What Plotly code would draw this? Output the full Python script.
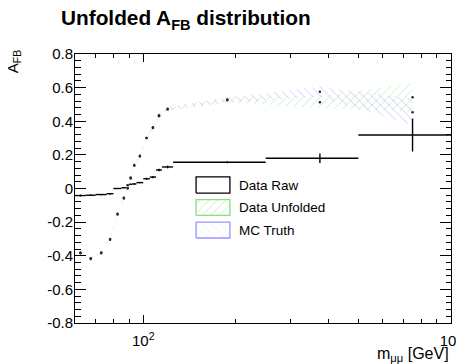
import plotly.graph_objects as go

# ---------------- data ----------------
bin_edges = [60, 65, 70, 76, 80, 85, 88, 90, 92, 95, 100, 105, 110, 115, 125, 250, 500, 1000]
raw_vals = [-0.042, -0.040, -0.036, -0.031, 0.000, 0.005, 0.020, 0.025, 0.027, 0.035,
            0.058, 0.068, 0.110, 0.128, 0.156, 0.180, 0.318]
raw_errs = [0.006, 0.005, 0.004, 0.004, 0.003, 0.003, 0.003, 0.003, 0.003, 0.004,
            0.006, 0.007, 0.008, 0.008, 0.006, 0.028, 0.098]
unf_vals = [-0.38, -0.42, -0.38, -0.30, -0.15, -0.06, 0.00, 0.065, 0.135, 0.19,
            0.30, 0.365, 0.435, 0.47, 0.53, 0.513, 0.543]
unf_errs = [0.008, 0.006, 0.006, 0.006, 0.006, 0.005, 0.005, 0.005, 0.006, 0.007,
            0.008, 0.009, 0.010, 0.010, 0.015, 0.035, 0.085]
mc_vals = [-0.385, -0.415, -0.385, -0.305, -0.155, -0.055, 0.005, 0.06, 0.14, 0.195,
           0.30, 0.36, 0.43, 0.475, 0.525, 0.576, 0.454]
mc_errs = [0.006, 0.005, 0.005, 0.005, 0.005, 0.004, 0.004, 0.004, 0.005, 0.006,
           0.007, 0.008, 0.009, 0.010, 0.015, 0.030, 0.080]
legend_names = ["Data Raw", "Data Unfolded", "MC Truth"]
y_ticks = [-0.8, -0.6, -0.4, -0.2, 0, 0.2, 0.4, 0.6, 0.8]
y_tick_text = ["-0.8", "-0.6", "-0.4", "-0.2", "0", "0.2", "0.4", "0.6", "0.8"]
x_ticks = [100, 1000]
x_tick_text = ["10<sup>2</sup>", "10<sup>3</sup>"]
x_minor = [60, 70, 80, 90, 200, 300, 400, 500, 600, 700, 800, 900]

# ---------------- derived ----------------
lo = bin_edges[:-1]
hi = bin_edges[1:]
centers = [(a + b) / 2 for a, b in zip(lo, hi)]

GREEN = "rgb(130,225,130)"
BLUE = "rgb(150,150,250)"

fig = go.Figure()


def band(vals, errs, color, shape):
    up = [v + e for v, e in zip(vals, errs)]
    dn = [v - e for v, e in zip(vals, errs)]
    xs = centers + centers[::-1]
    ys = up + dn[::-1]
    return go.Scatter(
        x=xs, y=ys, mode="lines", fill="toself",
        line=dict(width=0, color="rgba(0,0,0,0)"),
        fillcolor="rgba(0,0,0,0)",
        fillpattern=dict(shape=shape, fgcolor=color, bgcolor="rgba(0,0,0,0)",
                         size=6, solidity=0.15),
        hoverinfo="skip", showlegend=False,
    )


fig.add_trace(band(unf_vals, unf_errs, GREEN, "/"))
fig.add_trace(band(mc_vals, mc_errs, BLUE, "\\"))

for vals in (unf_vals, mc_vals):
    fig.add_trace(go.Scatter(
        x=centers, y=vals, mode="markers",
        marker=dict(size=2.5, color="rgb(40,40,40)"),
        showlegend=False,
    ))

fig.add_trace(go.Scatter(
    x=centers, y=raw_vals, mode="markers",
    marker=dict(size=1, color="black"),
    error_x=dict(type="data", symmetric=False,
                 array=[b - c for b, c in zip(hi, centers)],
                 arrayminus=[c - a for c, a in zip(centers, lo)],
                 width=0, thickness=1.4, color="black"),
    error_y=dict(type="data", array=raw_errs, width=0, thickness=1.4, color="black"),
    showlegend=False,
))

# ---------------- legend (drawn in an overlay axis, 0..1 units) ----------------
sw_x0, sw_x1 = 0.322, 0.412
rows = [(0.483, 0.543), (0.400, 0.459), (0.316, 0.375)]
sw_styles = [("black", None, None), (GREEN, "/", GREEN), (BLUE, "\\", "rgb(225,225,252)")]
for (y0, y1), (col, shp, fg) in zip(rows, sw_styles):
    kw = dict(fillcolor="white")
    if shp:
        kw = dict(fillcolor="rgba(0,0,0,0)",
                  fillpattern=dict(shape=shp, fgcolor=fg, bgcolor="white",
                                   size=6, solidity=0.15))
    fig.add_trace(go.Scatter(
        x=[sw_x0, sw_x1, sw_x1, sw_x0, sw_x0], y=[y0, y0, y1, y1, y0],
        xaxis="x2", yaxis="y2", mode="lines", fill="toself",
        line=dict(color=col, width=1.3), showlegend=False, hoverinfo="skip", **kw))
for (y0, y1), name in zip(rows, legend_names):
    fig.add_annotation(x=0.431, y=(y0 + y1) / 2, xref="paper", yref="paper",
                       text=name, showarrow=False, xanchor="left", yanchor="middle",
                       font=dict(family="Liberation Sans, Arial", size=13.5, color="black"))

# ---------------- layout ----------------
# the page body adds an 8px offset, so the figure is 8px smaller than the window
W, H = 456, 356
axis_font = dict(family="Liberation Sans, Arial", size=15, color="black")
fig.update_layout(
    width=W, height=H,
    margin=dict(l=67, r=13, t=46, b=41, autoexpand=False),
    paper_bgcolor="white", plot_bgcolor="white",
    showlegend=False,
    title=dict(text="<b>Unfolded A<sub>FB</sub> distribution</b>",
               x=53 / W, xanchor="left", xref="container",
               y=1 - 10 / H, yanchor="middle", yref="container",
               font=dict(family="Liberation Sans, Arial", size=20.8, color="black")),
    xaxis=dict(type="log", range=[1.7782, 3.0], showgrid=False, zeroline=False,
               automargin=False,
               showline=True, linecolor="black", linewidth=1, mirror="ticks",
               ticks="inside", ticklen=8, tickcolor="black",
               tickmode="array", tickvals=x_ticks, ticktext=x_tick_text,
               tickfont=axis_font, ticklabelstandoff=4,
               minor=dict(tickmode="array", tickvals=x_minor, ticks="inside",
                          ticklen=4, tickcolor="black", showgrid=False)),
    yaxis=dict(range=[-0.8, 0.8], showgrid=False, zeroline=False,
               automargin=False,
               showline=True, linecolor="black", linewidth=1, mirror="ticks",
               ticks="inside", ticklen=11, tickcolor="black",
               tickmode="array", tickvals=y_ticks, ticktext=y_tick_text,
               tickfont=axis_font, ticklabelstandoff=-2,
               minor=dict(dtick=0.04, ticks="inside", ticklen=5.5,
                          tickcolor="black", showgrid=False)),
    xaxis2=dict(overlaying="x", range=[0, 1], visible=False, anchor="y2"),
    yaxis2=dict(overlaying="y", range=[0, 1], visible=False, anchor="x2"),
)

fig.add_annotation(x=1.0, y=-0.118, xref="paper", yref="paper",
                   text="m<sub>μμ</sub> [GeV]", showarrow=False,
                   xanchor="right", yanchor="middle",
                   font=dict(family="Liberation Sans, Arial", size=16, color="black"))
fig.add_annotation(x=-0.163, y=0.972, xref="paper", yref="paper",
                   text="A<sub>FB</sub>", showarrow=False, textangle=-90,
                   xanchor="center", yanchor="middle",
                   font=dict(family="Liberation Sans, Arial", size=15, color="black"))

fig.write_html("out.html")
